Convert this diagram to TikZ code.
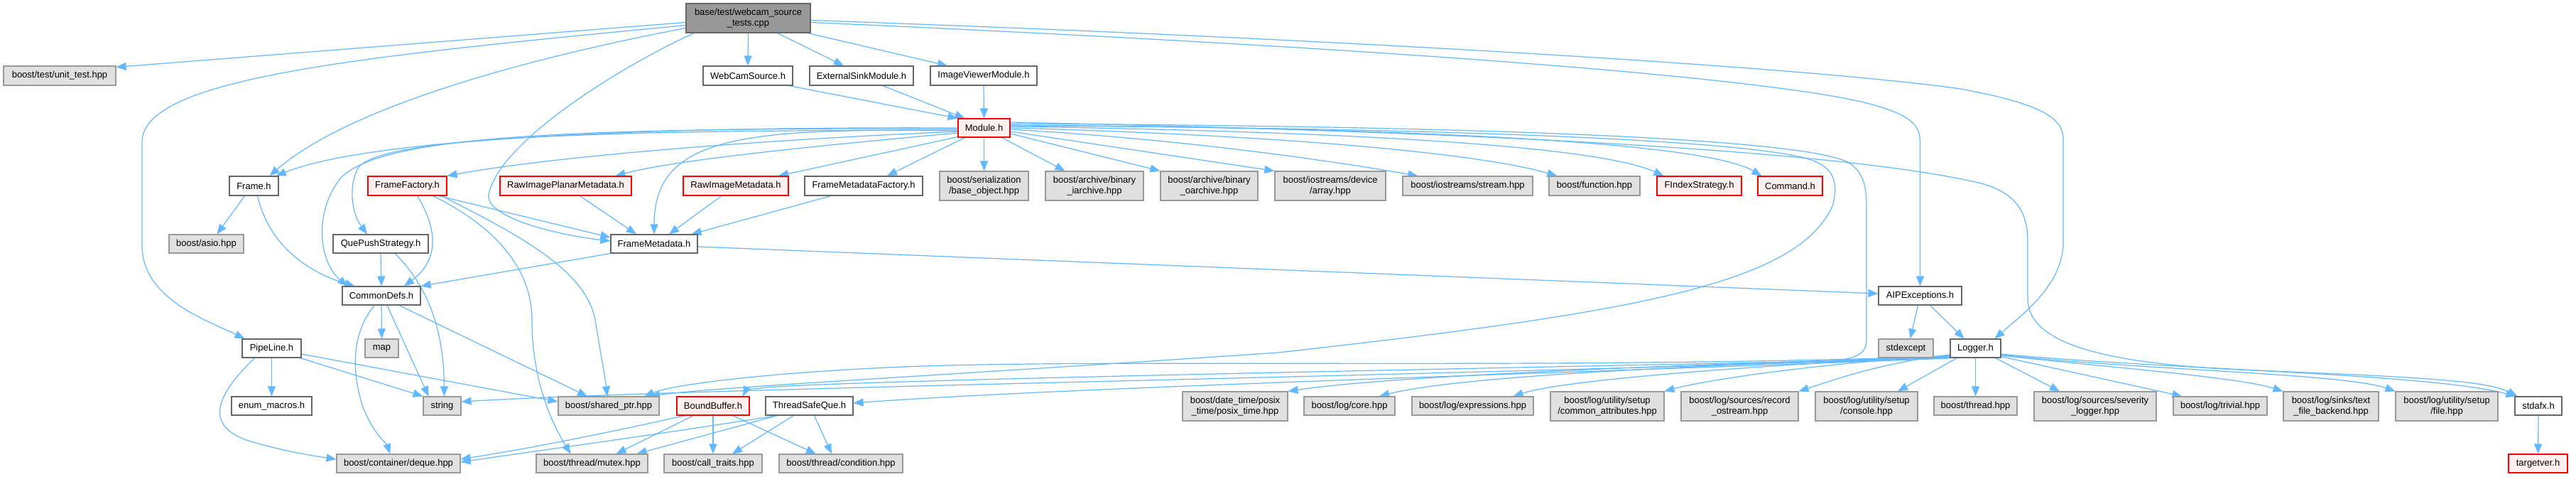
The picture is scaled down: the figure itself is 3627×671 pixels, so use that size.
\documentclass[tikz,border=0pt]{standalone}
\usepackage{fontspec}
\setmainfont{Liberation Sans}
\usetikzlibrary{arrows.meta,calc,backgrounds}
\definecolor{edgec}{HTML}{63B8FF}
\definecolor{wborder}{HTML}{666666}
\definecolor{gborder}{HTML}{999999}
\definecolor{gfill}{HTML}{E0E0E0}
\definecolor{rborder}{HTML}{FF0000}
\definecolor{rfill}{HTML}{FFF0F0}
\definecolor{tfill}{HTML}{999999}
\newcommand{\dfs}{\fontsize{13}{15}\selectfont}
\tikzset{
 nbox/.style={rectangle, inner sep=0pt, line width=1.1pt, font=\dfs, align=center},
 wbox/.style={nbox, draw=wborder, fill=white},
 gbox/.style={nbox, draw=gborder, fill=gfill},
 rbox/.style={nbox, draw=rborder, fill=rfill},
 tbox/.style={nbox, draw=wborder, fill=tfill},
 sz/.style 2 args={minimum width=#1pt, minimum height=#2pt},
 dep/.style={draw=edgec, line width=1.2pt, line join=round, -{Triangle[length=14pt,width=11pt]}},
}
\begin{document}
\begin{tikzpicture}[x=1pt, y=-1pt]
\useasboundingbox (0,0) rectangle (3627,671);
% nodes
\node[tbox, sz={175}{41}] (T) at (1053.5,25.5) {base/test/webcam\_source\\\_tests.cpp};
\node[gbox, sz={158}{27}] (unit) at (84,106.5) {boost/test/unit\_test.hpp};
\node[wbox, sz={126}{27}] (webcam) at (1053,106.5) {WebCamSource.h};
\node[wbox, sz={146}{27}] (extsink) at (1213,106.5) {ExternalSinkModule.h};
\node[wbox, sz={150}{27}] (imgview) at (1385,106.5) {ImageViewerModule.h};
\node[rbox, sz={73}{26}] (module) at (1385.5,180) {Module.h};
\node[wbox, sz={69}{27}] (frame) at (357.5,261.5) {Frame.h};
\node[rbox, sz={111}{27}] (ffactory) at (573.5,261.5) {FrameFactory.h};
\node[rbox, sz={185}{27}] (rawplanar) at (796.5,261.5) {RawImagePlanarMetadata.h};
\node[rbox, sz={148}{27}] (rawimg) at (1036,261.5) {RawImageMetadata.h};
\node[wbox, sz={166}{27}] (fmf) at (1216,261.5) {FrameMetadataFactory.h};
\node[gbox, sz={125}{41}] (serial) at (1385.5,261.5) {boost/serialization\\/base\_object.hpp};
\node[gbox, sz={138}{41}] (iarch) at (1541,261.5) {boost/archive/binary\\\_iarchive.hpp};
\node[gbox, sz={137}{41}] (oarch) at (1702.5,261.5) {boost/archive/binary\\\_oarchive.hpp};
\node[gbox, sz={156}{41}] (devarr) at (1873,261.5) {boost/iostreams/device\\/array.hpp};
\node[gbox, sz={183}{27}] (stream) at (2066.5,261.5) {boost/iostreams/stream.hpp};
\node[gbox, sz={128}{27}] (function) at (2245,261.5) {boost/function.hpp};
\node[rbox, sz={119}{27}] (findex) at (2392.5,261.5) {FIndexStrategy.h};
\node[rbox, sz={91}{27}] (command) at (2520.5,261.5) {Command.h};
\node[gbox, sz={105}{26}] (asio) at (290.5,343) {boost/asio.hpp};
\node[wbox, sz={134}{26}] (quepush) at (536,343) {QuePushStrategy.h};
\node[wbox, sz={122}{26}] (framemeta) at (921,343) {FrameMetadata.h};
\node[wbox, sz={110}{26}] (commondefs) at (537,416) {CommonDefs.h};
\node[wbox, sz={117}{26}] (aipexc) at (2703.5,416) {AIPExceptions.h};
\node[wbox, sz={83}{26}] (pipeline) at (382.5,490) {PipeLine.h};
\node[gbox, sz={47}{26}] (map) at (537.5,490) {map};
\node[gbox, sz={77}{26}] (stdexcept) at (2683.5,490) {stdexcept};
\node[wbox, sz={71}{26}] (logger) at (2781.5,490) {Logger.h};
\node[wbox, sz={113}{26}] (enum) at (382.5,571) {enum\_macros.h};
\node[gbox, sz={53}{26}] (string) at (622.5,571) {string};
\node[gbox, sz={142}{26}] (shared) at (857,571) {boost/shared\_ptr.hpp};
\node[rbox, sz={102}{26}] (bound) at (1004,571) {BoundBuffer.h};
\node[wbox, sz={123}{26}] (tsq) at (1139.5,571) {ThreadSafeQue.h};
\node[gbox, sz={148}{41}] (posix) at (1739,571.5) {boost/date\_time/posix\\\_time/posix\_time.hpp};
\node[gbox, sz={128}{26}] (core) at (1900,571) {boost/log/core.hpp};
\node[gbox, sz={171}{26}] (expr) at (2073.5,571) {boost/log/expressions.hpp};
\node[gbox, sz={160}{41}] (cattr) at (2263,571.5) {boost/log/utility/setup\\/common\_attributes.hpp};
\node[gbox, sz={165}{41}] (record) at (2449.5,571.5) {boost/log/sources/record\\\_ostream.hpp};
\node[gbox, sz={144}{41}] (console) at (2628,571.5) {boost/log/utility/setup\\/console.hpp};
\node[gbox, sz={117}{26}] (thread) at (2781.5,571) {boost/thread.hpp};
\node[gbox, sz={172}{41}] (severity) at (2950,571.5) {boost/log/sources/severity\\\_logger.hpp};
\node[gbox, sz={132}{26}] (trivial) at (3126,571) {boost/log/trivial.hpp};
\node[gbox, sz={134}{41}] (textfile) at (3282,571.5) {boost/log/sinks/text\\\_file\_backend.hpp};
\node[gbox, sz={144}{41}] (file) at (3445,571.5) {boost/log/utility/setup\\/file.hpp};
\node[wbox, sz={66}{26}] (stdafx) at (3574,571) {stdafx.h};
\node[gbox, sz={174}{26}] (deque) at (561,652) {boost/container/deque.hpp};
\node[gbox, sz={157}{26}] (mutex) at (833.5,652) {boost/thread/mutex.hpp};
\node[gbox, sz={138}{26}] (calltr) at (1004,652) {boost/call\_traits.hpp};
\node[gbox, sz={174}{26}] (cond) at (1184,652) {boost/thread/condition.hpp};
\node[rbox, sz={83}{26}] (targetver) at (3573.5,652) {targetver.h};
% edges
\begin{scope}[on background layer]
\fill[white] (0,0) rectangle (3627,671);
% top node
\draw[dep] ($(T.west)+(0,6)$) -- ($(unit.north east)+(0,2)$);
\draw[dep] ($(T.west)+(0,10)$) .. controls (500,80) and (200,110) .. (200,200) -- (200,345) .. controls (200,420) and (290,450) .. ($(pipeline.north west)+(4,0)$);
\draw[dep] ($(T.west)+(0,14)$) .. controls (700,90) and (480,160) .. ($(frame.north)+(22,0)$);
\draw[dep] ($(T.south west)+(12,0)$) .. controls (880,90) and (700,200) .. (688,275) .. controls (685,305) and (780,330) .. ($(framemeta.west)+(0,-4)$);
\draw[dep] (T.south) -- (webcam.north);
\draw[dep] ($(T.south)+(41,0)$) -- ($(extsink.north)+(-25,0)$);
\draw[dep] ($(T.south east)+(-4,0)$) -- ($(imgview.north)+(-51,0)$);
\draw[dep] ($(T.east)+(0,6)$) .. controls (1900,65) and (2450,105) .. (2620,143) .. controls (2690,160) and (2703.5,175) .. (2703.5,200) -- (aipexc.north);
\draw[dep] ($(T.east)+(0,3)$) .. controls (1900,55) and (2550,95) .. (2760,125) .. controls (2870,145) and (2905,165) .. (2905,195) -- (2905,340) .. controls (2905,400) and (2850,440) .. ($(logger.north)+(27,0)$);
% into Module
\draw[dep] ($(webcam.south east)+(-6,0)$) -- (module.north west);
\draw[dep] ($(extsink.south)+(30,0)$) -- ($(module.north west)+(10,0)$);
\draw[dep] (imgview.south) -- (module.north);
% Module to the left
\draw[dep] (module.west) .. controls (900,178) and (520,195) .. ($(frame.north east)+(-4,0)$);
\draw[dep] ($(module.west)+(0,1)$) .. controls (800,180) and (540,190) .. (480,250) .. controls (440,300) and (450,370) .. ($(commondefs.north west)+(8,0)$);
\draw[dep] ($(module.west)+(0,3)$) .. controls (800,183) and (540,195) .. (505,235) .. controls (490,260) and (495,300) .. ($(quepush.north)+(-19,0)$);
\draw[dep] ($(module.west)+(0,5)$) .. controls (1000,200) and (750,225) .. (ffactory.north east);
\draw[dep] ($(module.west)+(0,7)$) .. controls (1150,205) and (950,225) .. ($(rawplanar.north)+(70,0)$);
\draw[dep] ($(module.south west)+(0,-1)$) -- ($(rawimg.north)+(60,0)$);
\draw[dep] ($(module.south west)+(10,0)$) -- ($(fmf.north)+(33,0)$);
\draw[dep] ($(module.west)+(0,4)$) .. controls (1050,180) and (921,190) .. (framemeta.north);
% Module down / right
\draw[dep] (module.south) -- (serial.north);
\draw[dep] ($(module.south east)+(-12,0)$) -- ($(iarch.north west)+(28,0)$);
\draw[dep] ($(module.east)+(0,8)$) -- (oarch.north west);
\draw[dep] ($(module.east)+(0,5)$) -- (devarr.north west);
\draw[dep] ($(module.east)+(0,2)$) .. controls (1650,195) and (1850,222) .. ($(stream.north west)+(22,0)$);
\draw[dep] (module.east) .. controls (1800,190) and (2080,215) .. ($(function.north west)+(12,0)$);
\draw[dep] ($(module.east)+(0,-2)$) .. controls (1900,185) and (2250,205) .. ($(findex.north west)+(10,0)$);
\draw[dep] ($(module.east)+(0,-4)$) .. controls (2000,180) and (2400,200) .. ($(command.north west)+(6,0)$);
\draw[dep] ($(module.east)+(0,-3)$) .. controls (2100,180) and (2480,200) .. (2550,225) .. controls (2580,235) and (2590,255) .. (2580,290) .. controls (2530,400) and (2300,440) .. (1800,496) .. controls (1300,530) and (1000,545) .. ($(shared.north)+(58,0)$);
\draw[dep] ($(module.east)+(0,-6)$) .. controls (2200,178) and (2560,200) .. (2605,230) .. controls (2625,245) and (2628,265) .. (2628,290) -- (2628,478) .. controls (2628,500) and (2610,506) .. (2570,508) .. controls (2000,520) and (1200,535) .. (1080,545) .. controls (1060,547) and (1050,549) .. ($(bound.north)+(42,0)$);
\draw[dep] ($(module.east)+(0,-8)$) .. controls (2300,190) and (2650,225) .. (2790,258) .. controls (2840,272) and (2855,300) .. (2855,340) -- (2855,420) .. controls (2855,480) and (2950,510) .. (3150,520) .. controls (3400,530) and (3500,535) .. ($(stdafx.north west)+(4,0)$);
% Frame, FrameFactory
\draw[dep] ($(frame.south west)+(22,0)$) -- ($(asio.north)+(15,0)$);
\draw[dep] ($(frame.south)+(5,0)$) .. controls (380,350) and (440,385) .. ($(commondefs.north west)+(18,0)$);
\draw[dep] ($(ffactory.south)+(14,0)$) .. controls (615,320) and (620,365) .. ($(commondefs.north)+(32,0)$);
\draw[dep] ($(ffactory.south east)+(-12,0)$) -- ($(framemeta.west)+(0,-9)$);
\draw[dep] ($(ffactory.south east)+(-20,0)$) .. controls (700,320) and (749,380) .. (749,450) .. controls (749,540) and (780,600) .. ($(mutex.north)+(-30,0)$);
\draw[dep] ($(ffactory.south east)+(-8,0)$) .. controls (730,330) and (825,380) .. (838,450) .. controls (846,500) and (852,530) .. ($(shared.north)+(-2,0)$);
% metadata
\draw[dep] ($(rawplanar.south)+(20,0)$) -- ($(framemeta.north)+(-25,0)$);
\draw[dep] ($(rawimg.south)+(-20,0)$) -- ($(framemeta.north)+(21,0)$);
\draw[dep] ($(fmf.south)+(-46,0)$) -- ($(framemeta.north east)+(-9,0)$);
\draw[dep] (framemeta.south west) -- (commondefs.north east);
\draw[dep] ($(framemeta.east)+(0,4)$) -- ($(aipexc.west)+(0,-3)$);
% QuePush, CommonDefs, PipeLine
\draw[dep] (quepush.south) -- (commondefs.north);
\draw[dep] ($(quepush.south)+(20,0)$) .. controls (600,400) and (625,460) .. ($(string.north)+(3,0)$);
\draw[dep] (commondefs.south) -- (map.north);
\draw[dep] ($(commondefs.south)+(8,0)$) -- ($(string.north west)+(8,0)$);
\draw[dep] ($(commondefs.south)+(25,0)$) -- ($(shared.north)+(-30,0)$);
\draw[dep] ($(commondefs.south)+(-10,0)$) .. controls (495,470) and (495,520) .. (510,570) .. controls (525,610) and (545,625) .. ($(deque.north)+(-12,0)$);
\draw[dep] (pipeline.south) -- (enum.north);
\draw[dep] ($(pipeline.south east)+(-2,0)$) -- (string.north west);
\draw[dep] ($(pipeline.east)+(0,8)$) -- ($(shared.west)+(0,-6)$);
\draw[dep] ($(pipeline.south west)+(18,0)$) .. controls (300,560) and (290,600) .. (350,620) .. controls (400,635) and (440,641) .. ($(deque.west)+(0,-6)$);
% BoundBuffer, ThreadSafeQue
\draw[dep] ($(bound.south west)+(12,0)$) .. controls (850,610) and (750,630) .. ($(deque.east)+(0,-6)$);
\draw[dep] ($(bound.south west)+(24,0)$) -- ($(mutex.north)+(34,0)$);
\draw[dep] (bound.south) -- (calltr.north);
\draw[dep] ($(bound.south east)+(-24,0)$) -- ($(cond.north)+(-35,0)$);
\draw[dep] ($(tsq.south west)+(17,0)$) .. controls (900,615) and (750,635) .. ($(deque.east)+(0,-2)$);
\draw[dep] ($(tsq.south west)+(17,0)$) -- ($(mutex.north)+(63,0)$);
\draw[dep] ($(tsq.south west)+(40,0)$) -- ($(calltr.north)+(27,0)$);
\draw[dep] ($(tsq.south west)+(69,0)$) -- ($(cond.north)+(-13,0)$);
% AIPExceptions
\draw[dep] ($(aipexc.south)+(-3,0)$) -- ($(stdexcept.north)+(6,0)$);
\draw[dep] ($(aipexc.south)+(14,0)$) -- ($(logger.north)+(-16,0)$);
% Logger
\draw[dep] ($(logger.west)+(0,12)$) .. controls (2300,515) and (1950,530) .. (posix.north east);
\draw[dep] ($(logger.west)+(0,12)$) .. controls (2350,515) and (2050,530) .. ($(core.north)+(42,0)$);
\draw[dep] ($(logger.west)+(0,11)$) .. controls (2450,515) and (2200,535) .. ($(expr.north)+(57,0)$);
\draw[dep] ($(logger.west)+(0,10)$) .. controls (2550,512) and (2400,535) .. (cattr.north east);
\draw[dep] ($(logger.west)+(0,9)$) .. controls (2650,510) and (2580,535) .. (record.north east);
\draw[dep] ($(logger.south west)+(10,0)$) -- ($(console.north)+(44,0)$);
\draw[dep] (logger.south) -- (thread.north);
\draw[dep] ($(logger.south)+(28,0)$) -- ($(severity.north)+(-50,0)$);
\draw[dep] ($(logger.south east)+(0,-2)$) -- ($(trivial.north west)+(13,0)$);
\draw[dep] ($(logger.east)+(0,10)$) .. controls (2950,515) and (3150,530) .. (textfile.north west);
\draw[dep] ($(logger.east)+(0,9)$) .. controls (3000,520) and (3300,525) .. (file.north west);
\draw[dep] ($(logger.east)+(0,8)$) .. controls (3050,520) and (3420,525) .. ($(stdafx.north west)+(2,0)$);
\draw[dep] ($(logger.west)+(0,13)$) .. controls (2000,530) and (1000,545) .. ($(string.east)+(0,-6)$);
\draw[dep] ($(logger.west)+(0,14)$) .. controls (2200,525) and (1500,545) .. ($(tsq.east)+(0,-4)$);
\draw[dep] ($(logger.west)+(0,11)$) .. controls (2200,520) and (1600,505) .. (1300,515) .. controls (1100,522) and (950,540) .. ($(shared.north)+(50,0)$);
\draw[dep] (stdafx.south) -- (targetver.north);
\end{scope}
\end{tikzpicture}
\end{document}
